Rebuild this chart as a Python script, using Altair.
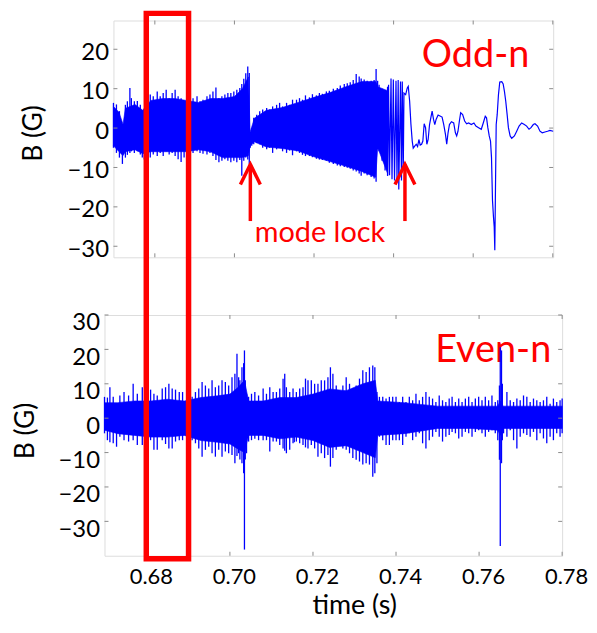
import altair as alt
import pandas as pd

FONT = "Lato"
BLUE = "#0000FF"
RED = "#FF0000"
FRAME = "#8a8a8a"

# ---------------- Odd-n panel (top) ----------------
# spike tips of the dense oscillation: time (ms), upper and lower B (G)
odd_env_ms = [669.60, 670.35, 671.10, 671.85, 672.60, 673.10, 673.73, 674.10, 674.85, 675.60,
              676.35, 676.85, 677.35, 677.85, 678.35, 678.85, 679.60, 680.60, 681.35, 682.10,
              682.85, 683.60, 684.35, 685.10, 685.85, 686.60, 687.35, 688.10, 688.85, 689.60,
              690.60, 691.35, 692.10, 693.10, 693.85, 694.60, 695.35, 696.10, 696.85, 697.60,
              698.35, 699.10, 699.85, 700.60, 701.35, 701.85, 702.35, 702.85, 703.35, 703.73,
              703.98, 704.35, 704.85, 705.60, 706.35, 707.10, 708.10, 708.85, 709.60, 710.60,
              711.35, 712.10, 713.10, 713.85, 714.60, 715.60, 716.35, 717.10, 717.85, 718.85,
              719.60, 720.60, 721.35, 722.10, 723.10, 723.85, 724.85, 725.85, 726.60, 727.60,
              728.35, 729.10, 729.85, 730.60, 731.35, 731.85, 732.60, 733.35, 734.35, 735.10,
              735.60, 735.98, 736.35, 737.10, 737.85, 738.48]
odd_env_hi = [6.4, 6.0, 4.3, 1.0, 5.9, 6.8, 10.2, 7.6, 6.8, 6.9,
              5.9, 3.8, 5.0, 7.0, 6.8, 8.5, 8.1, 9.3, 8.1, 8.9,
              9.7, 7.6, 8.9, 9.7, 8.1, 7.6, 6.8, 8.0, 10.0, 7.6,
              8.1, 6.8, 7.2, 8.1, 8.5, 9.3, 10.3, 7.6, 8.1, 8.5,
              8.9, 8.9, 9.3, 9.7, 10.2, 11.2, 12.5, 13.9, 15.6, 14.0,
              -1.6, 0.0, 2.6, 3.4, 4.3, 4.7, 5.1, 4.7, 5.5, 5.9,
              6.4, 5.5, 6.4, 5.9, 7.2, 7.2, 7.6, 7.2, 8.3, 7.8,
              8.6, 8.3, 8.9, 8.7, 9.3, 9.5, 10.0, 10.2, 10.8, 11.2,
              11.4, 11.6, 12.2, 13.7, 13.1, 12.6, 12.3, 12.0, 12.0, 12.2,
              15.0, 12.0, 11.0, 10.0, 9.5, 10.5]
odd_env_lo = [-5.0, -6.3, -7.5, -9.1, -7.5, -6.8, -6.3, -5.9, -6.3, -5.9,
              -6.7, -7.5, -8.0, -8.5, -9.6, -7.5, -6.7, -7.1, -6.3, -7.1,
              -5.9, -6.7, -6.3, -7.1, -7.9, -8.6, -7.5, -7.0, -6.3, -6.3,
              -5.9, -6.3, -6.5, -6.7, -6.3, -7.1, -8.1, -8.7, -8.3, -7.9,
              -8.3, -8.7, -8.3, -8.7, -8.1, -12.1, -8.3, -7.5, -8.0, -9.1,
              -5.0, -4.5, -4.1, -3.8, -4.1, -5.0, -5.4, -5.0, -6.3, -5.4,
              -5.0, -5.9, -6.3, -5.7, -6.9, -5.9, -6.3, -6.8, -7.1, -7.1,
              -7.4, -7.8, -8.0, -8.1, -8.3, -8.8, -9.1, -9.5, -9.7, -9.9,
              -10.1, -10.3, -10.8, -11.0, -11.5, -12.1, -11.5, -12.0, -12.4, -12.8,
              -13.6, -5.4, -5.9, -8.3, -10.8, -12.1]

# solid core of the dense oscillation band: time (ms), upper and lower B (G)
odd_core_ms = [669.6, 671.0, 672.0, 672.6, 675.0, 677.0, 679.0, 682.0, 685.0, 688.0,
               691.0, 694.0, 697.0, 700.0, 702.0, 703.5, 703.95, 705.0, 708.0, 712.0,
               716.0, 720.0, 724.0, 728.0, 732.0, 735.5, 736.0, 738.48]
odd_core_hi = [5.5, 4.0, 1.0, 5.0, 6.0, 4.5, 7.0, 7.5, 7.5, 7.0,
               6.5, 7.5, 7.5, 8.0, 10.0, 13.0, -1.0, 2.5, 4.5, 5.2,
               6.5, 7.8, 9.0, 10.5, 11.8, 11.8, 10.5, 9.5]
odd_core_lo = [-4.5, -6.0, -7.0, -6.0, -5.5, -6.5, -6.0, -6.0, -6.0, -6.0,
               -5.5, -6.0, -7.5, -7.5, -7.5, -7.0, -4.5, -3.5, -4.8, -5.2,
               -5.8, -7.3, -8.5, -9.7, -11.0, -12.5, -5.0, -11.5]

# resolved trace after the mode lock: time (ms), B (G)
odd_line_ms = [738.48, 738.73, 738.98, 739.35, 739.60, 739.93, 740.23, 740.60, 740.85, 741.15,
               741.30, 741.73, 741.98, 742.18, 742.43, 742.60, 743.03, 743.43, 743.68, 744.03,
               744.35, 744.68, 744.93, 745.35, 745.68, 746.03, 746.35, 746.68, 747.03, 747.35,
               747.68, 748.03, 748.35, 748.68, 749.03, 749.35, 749.68, 750.03, 750.35, 750.68,
               751.18, 751.78, 752.18, 752.60, 753.03, 753.35, 753.68, 754.03, 754.53, 755.10,
               755.53, 755.85, 756.18, 756.53, 756.85, 757.35, 757.85, 758.35, 758.85, 759.53,
               760.18, 760.68, 761.35, 762.03, 762.53, 763.03, 763.35, 763.68, 764.03, 764.35,
               764.60, 764.85, 765.10, 765.28, 765.43, 765.60, 765.78, 766.03, 766.35, 766.68,
               767.18, 767.53, 767.85, 768.18, 768.53, 768.85, 769.28, 769.68, 770.35, 770.93,
               771.53, 772.18, 772.85, 773.43, 774.03, 774.53, 775.10, 775.53, 776.18, 776.78,
               777.35, 778.03, 778.68, 779.28, 780.10]
odd_line_b = [-12.1, 11.0, -12.0, 12.6, -13.0, 12.3, -13.3, 12.0, -13.0, 12.2,
              -15.6, 11.8, -13.3, 11.8, -10.8, 8.9, 8.5, 10.2, 10.6, 6.8,
              1.0, -3.3, -5.1, -4.5, -4.1, -4.7, -2.9, -4.3, -4.1, -3.3,
              1.1, 0.1, -4.1, -2.9, 0.9, 2.6, 4.3, 2.2, 0.9, 2.2,
              3.3, 3.0, 2.8, 0.9, -1.6, -4.1, -1.2, 0.9, 1.6, 1.3,
              -1.2, -2.0, -0.8, 1.8, 3.9, 3.4, 1.8, 1.1, 1.3, 0.9,
              1.3, 0.5, 0.1, -0.3, 1.3, 3.0, 2.6, 0.1, -2.0, -3.3,
              -7.5, -18.4, -22.6, -25.1, -31.0, -15.0, 0.9, 3.4, 8.5, 11.7,
              11.8, 11.2, 9.3, 6.8, 3.4, 0.1, -2.0, -2.6, -2.0, -0.8,
              0.5, 1.3, 0.9, 0.5, -0.3, 0.1, 0.9, 1.1, 0.5, -0.8,
              -1.2, -1.0, -0.8, -0.6, -0.8]

# ---------------- Even-n panel (bottom) ----------------
even_env_ms = [669.8, 670.5, 671.1, 671.9, 672.7, 673.5, 674.5, 675.6, 676.7, 677.7,
               678.9, 679.9, 680.9, 681.7, 682.5, 683.7, 684.5, 685.3, 686.1, 686.9,
               687.8, 688.6, 689.9, 690.9, 691.7, 692.5, 693.3, 694.1, 694.9, 695.7,
               696.5, 697.3, 698.1, 698.9, 699.7, 700.5, 701.2, 701.7, 702.1, 702.4,
               702.9, 703.3, 703.5, 703.7, 704.0, 704.5, 705.2, 706.0, 706.9, 708.0,
               708.8, 709.6, 710.4, 711.2, 712.0, 712.8, 713.2, 713.6, 714.4, 715.2,
               715.5, 716.0, 716.8, 717.6, 718.2, 718.8, 719.6, 720.4, 721.2, 722.0,
               722.8, 723.6, 724.2, 724.8, 725.6, 726.4, 727.2, 728.0, 728.8, 729.6,
               730.4, 731.2, 732.0, 732.8, 733.6, 734.4, 734.9, 735.4, 736.0, 736.8,
               737.6, 738.4, 739.2, 740.0, 740.8, 741.6, 742.4, 743.2, 744.0, 744.8,
               745.6, 746.4, 747.2, 748.0, 748.8, 749.6, 750.4, 751.2, 752.0, 752.8,
               753.5, 754.3, 755.1, 755.9, 756.7, 757.5, 758.3, 759.1, 759.9, 760.7,
               761.5, 762.3, 763.1, 763.9, 764.5, 764.9, 765.1, 765.4, 765.6, 765.9,
               766.7, 767.5, 768.3, 769.1, 769.9, 770.7, 771.5, 772.3, 773.1, 773.9,
               774.7, 775.5, 776.3, 777.1, 777.9, 778.7, 779.5, 780.0]
even_env_hi = [6.2, 6.0, 9.0, 6.2, 2.3, 6.6, 7.6, 6.6, 10.0, 7.1,
               9.0, 7.5, 8.3, 7.1, 6.6, 8.6, 9.0, 10.0, 8.6, 8.3,
               7.6, 7.6, 7.0, 6.2, 7.6, 8.6, 10.5, 9.5, 8.6, 11.0,
               9.0, 9.5, 11.0, 10.5, 9.5, 11.9, 12.9, 18.7, 11.9, 11.0,
               14.8, 16.0, 19.7, 11.0, 7.0, 6.2, 7.1, 7.6, 6.6, 8.6,
               7.1, 9.0, 7.6, 7.6, 8.6, 11.5, 12.9, 9.0, 7.6, 8.6,
               4.5, 7.6, 8.6, 9.0, 11.5, 11.0, 11.0, 10.0, 10.0, 11.0,
               11.0, 11.9, 14.8, 12.9, 9.5, 6.6, 9.5, 11.9, 10.0, 8.6,
               9.5, 11.5, 13.9, 13.4, 14.8, 15.3, 14.8, 7.6, 6.2, 6.2,
               5.7, 6.2, 6.2, 6.2, 4.7, 6.2, 4.7, 6.2, 5.2, 7.1,
               5.2, 6.2, 7.6, 6.2, 5.7, 4.7, 6.6, 5.2, 4.7, 5.7,
               6.2, 4.7, 5.7, 4.7, 5.7, 6.2, 4.7, 5.7, 6.2, 5.2,
               6.2, 5.2, 6.6, 4.7, 5.2, 9.5, 20.6, 19.7, 10.0, 3.3,
               7.6, 5.2, 4.7, 5.7, 5.2, 6.6, 6.2, 4.7, 5.7, 5.2,
               4.7, 5.2, 6.2, 4.2, 5.7, 4.7, 5.2, 5.7]
even_env_lo = [-4.4, -6.4, -7.0, -7.3, -8.3, -5.4, -6.4, -6.8, -6.4, -7.8,
               -7.8, -7.0, -6.4, -9.2, -9.2, -6.4, -7.5, -8.8, -8.8, -6.8,
               -6.4, -6.4, -6.5, -6.4, -7.3, -8.8, -11.2, -9.2, -8.3, -10.2,
               -11.2, -9.2, -11.2, -9.7, -10.2, -10.7, -13.1, -11.0, -10.2, -12.0,
               -13.1, -16.0, -38.2, -12.0, -10.2, -6.8, -6.4, -6.0, -6.4, -6.4,
               -6.4, -9.7, -6.8, -6.8, -7.8, -8.8, -9.5, -10.2, -9.2, -7.3,
               -7.0, -6.8, -7.3, -7.8, -8.5, -8.8, -7.8, -8.8, -11.2, -10.2,
               -11.6, -10.7, -14.1, -11.6, -9.2, -7.8, -8.8, -9.2, -10.2, -11.6,
               -12.1, -12.6, -13.5, -13.1, -13.5, -17.0, -16.0, -13.1, -5.4, -6.4,
               -7.8, -7.8, -6.4, -6.4, -6.4, -7.8, -5.4, -4.4, -6.4, -5.4,
               -4.4, -7.3, -8.8, -6.4, -5.4, -4.0, -5.4, -6.8, -5.4, -4.9,
               -4.0, -4.4, -5.9, -5.4, -4.0, -4.4, -5.4, -4.0, -3.5, -4.4,
               -5.4, -4.0, -3.5, -4.4, -6.4, -12.1, -37.2, -13.1, -6.4, -4.4,
               -5.4, -3.5, -6.4, -8.8, -5.4, -4.4, -4.9, -5.4, -4.0, -6.4,
               -4.4, -5.9, -7.3, -5.4, -6.4, -4.4, -5.4, -4.4]

even_core_ms = [669.8, 673.0, 677.0, 681.0, 685.0, 689.0, 693.0, 697.0, 700.0, 702.0,
                703.5, 704.5, 708.0, 712.0, 716.0, 720.0, 724.0, 728.0, 732.0, 735.0,
                735.6, 742.0, 750.0, 758.0, 764.5, 765.1, 765.8, 772.0, 780.0]
even_core_hi = [4.5, 4.5, 5.0, 5.0, 5.5, 5.0, 6.0, 6.5, 7.0, 9.0,
                11.0, 5.0, 5.0, 6.0, 6.0, 7.0, 8.5, 8.0, 10.0, 11.0,
                5.0, 4.5, 3.5, 3.5, 3.5, 5.0, 3.5, 3.5, 3.5]
even_core_lo = [-3.5, -4.5, -5.0, -5.5, -5.5, -5.0, -6.5, -7.0, -7.5, -9.0,
                -10.0, -5.0, -5.0, -6.0, -5.5, -6.5, -8.5, -8.0, -10.0, -11.5,
                -5.0, -4.5, -3.0, -3.0, -3.5, -5.0, -3.0, -3.0, -3.0]

# ---------------- axes ----------------
x_ticks = [0.68, 0.70, 0.72, 0.74, 0.76, 0.78]
odd_y_ticks = [-30, -20, -10, 0, 10, 20]
even_y_ticks = [-30, -20, -10, 0, 10, 20, 30]

# ---------------- annotations ----------------
arrow_ms = [704.0, 742.85]
arrow_tip = -9.2
arrow_end = -23.6
head_ms = [701.5, 704.0, 706.5, 740.35, 742.85, 745.35]
head_b = [-14.3, -9.2, -14.3, -14.3, -9.2, -14.3]
head_id = ["a", "a", "a", "b", "b", "b"]
box_ms = [679.86, 690.04]
box_b = [117.7, -40.9]

W1, H1 = 442, 238
W2, H2 = 460, 242


def ms(lst):
    return [m / 1000 for m in lst]


odd_env = pd.DataFrame({"t": ms(odd_env_ms), "v": odd_env_hi, "v2": odd_env_lo})
odd_core = pd.DataFrame({"t": ms(odd_core_ms), "v": odd_core_hi, "v2": odd_core_lo})
odd_line = pd.DataFrame({"t": ms(odd_line_ms), "v": odd_line_b})
even_env = pd.DataFrame({"t": ms(even_env_ms), "v": even_env_hi, "v2": even_env_lo})
even_core = pd.DataFrame({"t": ms(even_core_ms), "v": even_core_hi, "v2": even_core_lo})
xt = pd.DataFrame({"t": x_ticks})
yt_odd = pd.DataFrame({"v": odd_y_ticks})
yt_even = pd.DataFrame({"v": even_y_ticks})
shafts = pd.DataFrame({"t": ms(arrow_ms), "v": [arrow_tip] * 2, "v2": [arrow_end] * 2})
heads = pd.DataFrame({"t": ms(head_ms), "v": head_b, "id": head_id})
box = pd.DataFrame({"t": [box_ms[0] / 1000], "t2": [box_ms[1] / 1000], "v": [box_b[0]], "v2": [box_b[1]]})
odd_label = pd.DataFrame({"t": [0.7606], "v": [15.5], "txt": ["Odd-n"]})
lock_label = pd.DataFrame({"t": [0.7051], "v": [-28.9], "txt": ["mode lock"]})
even_label = pd.DataFrame({"t": [0.7634], "v": [16.2], "txt": ["Even-n"]})


def yaxis(values, offset, tpad, ty):
    return alt.Axis(values=values, ticks=False, domain=False, grid=False,
                    labelFont=FONT, labelFontSize=24, labelColor="black", labelPadding=5,
                    labelOffset=offset, labelFlush=False, labelOverlap=False,
                    title="B (G)", titleFont=FONT, titleFontSize=26.5, titleFontWeight="normal",
                    titleColor="black", titlePadding=tpad, titleY=ty)


X1 = alt.X("t:Q", scale=alt.Scale(domain=[0.6696, 0.7801], nice=False, zero=False), axis=None)
Y1 = alt.Y("v:Q", scale=alt.Scale(domain=[-32.8, 27.3], nice=False, zero=False),
           axis=yaxis(odd_y_ticks, 3, 19.5, 113))
X2 = alt.X("t:Q", scale=alt.Scale(domain=[0.6698, 0.7800], nice=False, zero=False),
           axis=alt.Axis(values=x_ticks, format=".2f", ticks=False, domain=False, grid=False,
                         labelFont=FONT, labelFontSize=22, labelColor="black", labelPadding=11,
                         labelOffset=4, labelFlush=False, labelOverlap=False,
                         title="time (s)", titleFont=FONT, titleFontSize=27,
                         titleFontWeight="normal", titleColor="black", titlePadding=5,
                         titleX=251))
Y2 = alt.Y("v:Q", scale=alt.Scale(domain=[-40, 30], nice=False, zero=False),
           axis=yaxis(even_y_ticks, 8, 18.5, 116))


def frame_ticks(X, Y, xdf, ydf, W, H):
    return [
        alt.Chart(xdf).mark_rule(color=FRAME).encode(x=X, y=alt.value(0), y2=alt.value(4)),
        alt.Chart(xdf).mark_rule(color=FRAME).encode(x=X, y=alt.value(H), y2=alt.value(H - 4)),
        alt.Chart(ydf).mark_rule(color=FRAME).encode(y=Y, x=alt.value(0), x2=alt.value(4)),
        alt.Chart(ydf).mark_rule(color=FRAME).encode(y=Y, x=alt.value(W), x2=alt.value(W - 4)),
    ]


def signal(core, env, X, Y):
    return [
        alt.Chart(core).mark_area(color=BLUE, stroke=BLUE, strokeWidth=0.6).encode(x=X, y=Y, y2="v2:Q"),
        alt.Chart(env).mark_rule(color=BLUE, strokeWidth=1.3).encode(x=X, y=Y, y2="v2:Q"),
    ]


top = alt.layer(
    *signal(odd_core, odd_env, X1, Y1),
    alt.Chart(odd_line).mark_line(color=BLUE, strokeWidth=1.2).encode(x=X1, y=Y1),
    *frame_ticks(X1, Y1, xt, yt_odd, W1, H1),
    alt.Chart(shafts).mark_rule(color=RED, strokeWidth=3.5).encode(x=X1, y=Y1, y2="v2:Q"),
    alt.Chart(heads).mark_line(color=RED, strokeWidth=3.5).encode(x=X1, y=Y1, detail="id:N"),
    alt.Chart(odd_label).mark_text(font=FONT, fontSize=38, color=RED, align="center",
                                   baseline="alphabetic").encode(x=X1, y=Y1, text="txt:N"),
    alt.Chart(lock_label).mark_text(font=FONT, fontSize=29, color=RED, align="left",
                                    baseline="alphabetic").encode(x=X1, y=Y1, text="txt:N"),
).properties(width=W1, height=H1)

bottom = alt.layer(
    alt.Chart(even_label).mark_text(font=FONT, fontSize=38, color=RED, align="center",
                                    baseline="alphabetic").encode(x=X2, y=Y2, text="txt:N"),
    *signal(even_core, even_env, X2, Y2),
    *frame_ticks(X2, Y2, xt, yt_even, W2, H2),
    alt.Chart(box).mark_rect(filled=False, stroke=RED, strokeWidth=5.5).encode(
        x=X2, x2="t2:Q", y=Y2, y2="v2:Q"),
).properties(width=W2, height=H2)

chart = alt.vconcat(top, bottom, spacing=58, bounds="flush", center=True).properties(
    padding={"left": 4, "top": 0, "right": 0, "bottom": 0}
).configure_view(stroke=FRAME, strokeWidth=1).configure(font=FONT)

chart.save("out.html", embed_options={"renderer": "svg", "actions": False})
